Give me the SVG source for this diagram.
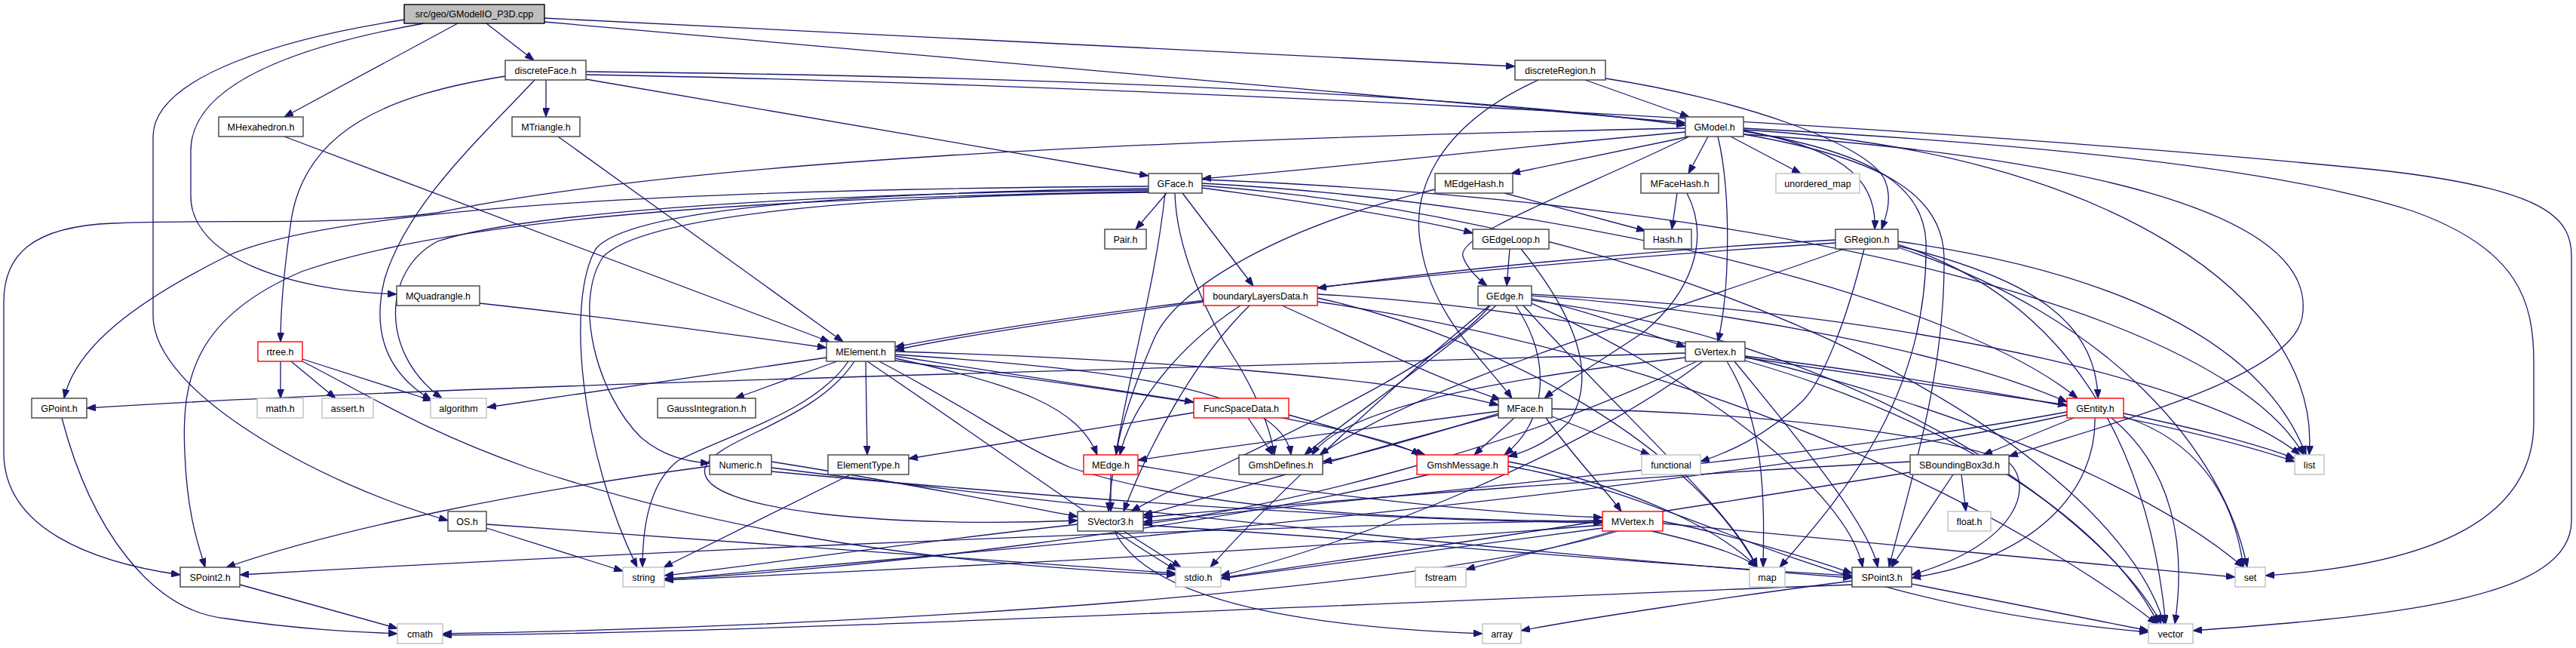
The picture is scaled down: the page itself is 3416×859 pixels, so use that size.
<svg xmlns="http://www.w3.org/2000/svg" width="3416" height="859" viewBox="0 0 3416 859">
<style>
.e{fill:none;stroke:#191970;stroke-width:1.3;marker-end:url(#ah)}
.n rect{fill:#fff;stroke:#404040;stroke-width:1.4}
.r rect{stroke:#ff0000}
.g rect{stroke:#bfbfbf}
.root rect{fill:#bfbfbf;stroke:#000}
text{font-family:"Liberation Sans",Arial,sans-serif;font-size:12.5px;text-anchor:middle;fill:#000}
</style>
<defs>
<marker id="ah" viewBox="0 0 12 9" refX="12" refY="4.5" markerWidth="12" markerHeight="9" markerUnits="userSpaceOnUse" orient="auto"><path d="M0,0L12,4.5L0,9z" fill="#191970" stroke="#191970" stroke-width="1"/></marker>
</defs>
<rect width="3416" height="859" fill="#fff"/>
<g id="edges">
<path class="e" d="M645,31 L708,80"/>
<path class="e" d="M607,31 L377,155"/>
<path class="e" d="M537,26 C380,50 205,100 203,180 L203,420 C205,520 420,640 594,690"/>
<path class="e" d="M562,31 C400,60 253,110 253,200 L253,260 C253,340 380,385 526,390"/>
<path class="e" d="M722,24 L2009,88"/>
<path class="e" d="M722,29 L2235,163"/>
<path class="e" d="M777,95 C1300,100 1900,120 2235,166"/>
<path class="e" d="M777,99 C1400,110 2500,160 3150,225 C3380,250 3410,290 3410,340 L3410,690 C3410,790 3200,815 2908,836"/>
<path class="e" d="M777,105 L1523,233"/>
<path class="e" d="M724,106 L724,155"/>
<path class="e" d="M670,101 C520,125 400,170 385,300 C375,370 372,420 372,453"/>
<path class="e" d="M709,106 C640,180 540,270 510,370 C495,430 505,490 572,530"/>
<path class="e" d="M377,181 L1100,453"/>
<path class="e" d="M740,181 L1118,453"/>
<path class="e" d="M636,402 C800,420 950,440 1096,461"/>
<path class="e" d="M2235,175 C2000,195 1800,220 1594,237"/>
<path class="e" d="M2240,181 L2004,230"/>
<path class="e" d="M2240,181 C2100,250 1930,310 1940,340 C1945,355 1960,370 1972,379"/>
<path class="e" d="M2265,181 L2239,230"/>
<path class="e" d="M2278,181 C2295,250 2295,380 2278,453"/>
<path class="e" d="M2295,181 L2388,230"/>
<path class="e" d="M2312,173 C2430,195 2490,230 2486,304"/>
<path class="e" d="M2129,104 C2300,130 2480,190 2500,240 C2510,265 2500,290 2495,304"/>
<path class="e" d="M2102,106 L2240,155"/>
<path class="e" d="M2040,106 C1900,170 1870,260 1885,330 C1900,420 1970,480 2005,528"/>
<path class="e" d="M1995,256 L2182,306"/>
<path class="e" d="M1903,251 C1700,300 1560,380 1530,450 C1500,520 1485,570 1480,603"/>
<path class="e" d="M2224,256 L2217,304"/>
<path class="e" d="M2237,256 C2270,320 2240,390 2180,440 C2120,480 2070,510 2048,528"/>
<path class="e" d="M1547,256 L1506,304"/>
<path class="e" d="M1568,256 L1662,379"/>
<path class="e" d="M1594,249 C1750,270 1880,290 1953,309"/>
<path class="e" d="M1523,252 C1100,255 700,280 580,320 C505,360 505,470 586,528"/>
<path class="e" d="M1523,247 C1000,250 450,270 300,340 C180,400 100,460 85,528"/>
<path class="e" d="M2235,170 C1500,185 900,215 580,282 C450,300 300,290 150,296 C40,300 5,340 5,400 L5,600 C5,700 120,745 239,762"/>
<path class="e" d="M1523,254 C1000,262 600,290 400,360 C260,420 240,500 245,600 C248,680 262,720 272,752"/>
<path class="e" d="M1523,255 C1100,260 850,290 800,340 C760,400 790,520 850,580 C880,605 910,612 941,614"/>
<path class="e" d="M1523,250 C1100,255 830,280 790,330 C750,400 770,600 845,752"/>
<path class="e" d="M2312,170 C2600,185 3000,215 3200,280 C3340,330 3360,400 3360,480 L3360,560 C3360,700 3200,750 3004,763"/>
<path class="e" d="M2312,178 C2650,200 3080,260 3053,420 C3040,500 2800,560 2664,605"/>
<path class="e" d="M2312,174 C2470,200 2550,240 2554,320 C2558,520 2450,650 2360,752"/>
<path class="e" d="M2312,178 C2500,210 2576,260 2578,340 C2580,500 2530,650 2505,752"/>
<path class="e" d="M2312,172 C2800,200 3080,400 3062,603"/>
<path class="e" d="M1594,243 C2100,270 2600,400 2755,528"/>
<path class="e" d="M1594,238 C2400,270 2950,420 3055,603"/>
<path class="e" d="M1594,246 C2300,300 2800,600 2870,827"/>
<path class="e" d="M1545,256 C1530,400 1480,550 1470,678"/>
<path class="e" d="M1558,256 C1560,330 1600,420 1640,480 C1670,530 1685,570 1690,603"/>
<path class="e" d="M2002,330 L1998,379"/>
<path class="e" d="M2017,330 C2090,420 2120,500 2080,560 C2050,590 2020,600 2000,605"/>
<path class="e" d="M2434,318 C2200,330 1900,360 1747,382"/>
<path class="e" d="M2517,326 C2700,370 2780,430 2782,528"/>
<path class="e" d="M2434,322 C2000,350 1500,400 1187,460"/>
<path class="e" d="M2517,320 C2800,360 3000,450 3058,603"/>
<path class="e" d="M2517,324 C2750,400 2850,600 2872,827"/>
<path class="e" d="M2517,328 C2800,420 2950,600 2980,752"/>
<path class="e" d="M2445,330 C2200,420 1900,500 1750,603"/>
<path class="e" d="M2472,330 C2450,420 2420,500 2391,531 C2340,580 2290,600 2255,612"/>
<path class="e" d="M2031,392 C2300,410 2600,470 2741,533"/>
<path class="e" d="M2031,396 C2100,410 2180,440 2235,460"/>
<path class="e" d="M1976,405 C1900,500 1600,620 1500,678"/>
<path class="e" d="M1984,405 C1900,480 1780,560 1730,603"/>
<path class="e" d="M2010,405 C2060,480 2050,560 1995,603"/>
<path class="e" d="M2031,390 C2600,420 2950,520 3050,603"/>
<path class="e" d="M2031,398 C2500,460 2800,700 2866,827"/>
<path class="e" d="M1975,405 C1800,550 1650,700 1605,752"/>
<path class="e" d="M2020,405 C2150,550 2300,680 2330,752"/>
<path class="e" d="M2031,402 C2250,500 2450,650 2470,752"/>
<path class="e" d="M2314,474 L2741,537"/>
<path class="e" d="M2235,468 C1500,490 600,510 115,541"/>
<path class="e" d="M2314,472 C2700,520 2950,580 3043,612"/>
<path class="e" d="M2314,478 C2600,560 2800,700 2862,827"/>
<path class="e" d="M2250,479 C2000,600 1700,670 1516,695"/>
<path class="e" d="M2258,479 C2100,600 1800,720 1619,763"/>
<path class="e" d="M2235,474 C2000,500 1780,540 1740,603"/>
<path class="e" d="M2290,479 C2340,560 2340,660 2338,752"/>
<path class="e" d="M2300,479 C2400,600 2480,700 2490,752"/>
<path class="e" d="M1596,400 C1450,420 1300,440 1187,464"/>
<path class="e" d="M1645,405 C1560,460 1500,540 1485,603"/>
<path class="e" d="M1700,405 C1800,450 1900,500 1990,530"/>
<path class="e" d="M1657,405 C1580,480 1520,600 1490,678"/>
<path class="e" d="M1747,395 C2000,450 2250,600 2330,752"/>
<path class="e" d="M1747,390 C2300,420 2800,600 2975,752"/>
<path class="e" d="M1747,400 C2300,480 2700,700 2860,827"/>
<path class="e" d="M1096,474 L646,540"/>
<path class="e" d="M1110,479 L975,528"/>
<path class="e" d="M1148,479 L1150,603"/>
<path class="e" d="M1125,479 C1080,545 970,575 900,610 C860,640 852,700 852,752"/>
<path class="e" d="M1133,479 C1080,560 950,580 935,620 C920,680 1200,700 1429,690"/>
<path class="e" d="M1150,479 C1300,580 1450,690 1560,756"/>
<path class="e" d="M1166,479 C1300,550 1350,590 1420,620 C1600,680 1900,690 2125,691"/>
<path class="e" d="M1187,472 L1583,533"/>
<path class="e" d="M1187,475 C1350,510 1430,540 1455,603"/>
<path class="e" d="M1187,466 C1500,475 1850,500 1987,537"/>
<path class="e" d="M1187,470 C1500,490 1700,520 1712,603"/>
<path class="e" d="M1187,478 C1500,520 1800,560 1884,603"/>
<path class="e" d="M2050,554 C2090,610 2130,650 2150,678"/>
<path class="e" d="M1987,550 C1800,600 1600,660 1516,683"/>
<path class="e" d="M1987,548 C1900,575 1800,605 1754,612"/>
<path class="e" d="M2008,554 L1955,603"/>
<path class="e" d="M1987,545 C1800,570 1600,595 1509,610"/>
<path class="e" d="M2058,552 L2188,603"/>
<path class="e" d="M2058,542 C2300,545 2550,570 2660,610 C2700,640 2680,720 2535,762"/>
<path class="e" d="M2750,554 L2630,603"/>
<path class="e" d="M2778,554 C2780,650 2700,740 2535,766"/>
<path class="e" d="M2741,546 C2400,610 1800,660 1516,692"/>
<path class="e" d="M2816,548 C2900,565 3000,590 3043,608"/>
<path class="e" d="M2816,552 C2900,580 2960,640 2975,752"/>
<path class="e" d="M2800,554 C2880,620 2900,720 2884,827"/>
<path class="e" d="M2741,550 C2300,650 1200,740 881,768"/>
<path class="e" d="M1473,629 L1473,678"/>
<path class="e" d="M1509,617 C1700,650 1950,680 2125,686"/>
<path class="e" d="M1583,547 L1205,608"/>
<path class="e" d="M1655,554 L1688,603"/>
<path class="e" d="M1709,550 C1780,570 1850,590 1890,603"/>
<path class="e" d="M2000,612 C2150,640 2280,700 2330,752"/>
<path class="e" d="M2000,618 C2250,660 2400,800 2849,838"/>
<path class="e" d="M1895,629 C1600,700 1100,760 881,767"/>
<path class="e" d="M2205,691 C2300,710 2400,740 2456,760"/>
<path class="e" d="M2205,694 C2500,720 2800,750 2964,765"/>
<path class="e" d="M2190,704 C2260,720 2310,735 2330,752"/>
<path class="e" d="M2125,696 C1700,730 1200,755 881,769"/>
<path class="e" d="M2125,700 C1900,730 1700,755 1619,767"/>
<path class="e" d="M2140,704 C2050,730 1980,745 1944,755"/>
<path class="e" d="M2145,704 C1900,780 1200,830 587,840"/>
<path class="e" d="M2125,690 C1500,700 700,740 318,762"/>
<path class="e" d="M1516,696 C1900,720 2200,750 2456,763"/>
<path class="e" d="M1429,695 C1200,720 1000,750 881,763"/>
<path class="e" d="M1490,704 L1566,752"/>
<path class="e" d="M1478,704 C1520,790 1700,830 1966,840"/>
<path class="e" d="M2590,629 L2508,752"/>
<path class="e" d="M2601,629 L2607,678"/>
<path class="e" d="M2533,612 C2200,630 1800,660 1516,686"/>
<path class="e" d="M2533,626 C2200,680 1800,740 1619,766"/>
<path class="e" d="M941,618 C700,650 450,700 300,752"/>
<path class="e" d="M1023,612 C1200,640 1350,670 1429,685"/>
<path class="e" d="M1023,620 C1500,680 2100,740 2456,766"/>
<path class="e" d="M1023,625 C1400,660 1800,690 2125,693"/>
<path class="e" d="M1128,629 L880,752"/>
<path class="e" d="M645,700 L826,757"/>
<path class="e" d="M645,695 C1000,720 1400,750 1559,760"/>
<path class="e" d="M372,479 L372,528"/>
<path class="e" d="M386,479 L445,528"/>
<path class="e" d="M401,476 L573,531"/>
<path class="e" d="M401,479 C500,530 560,570 700,620 C1000,720 1300,750 1559,762"/>
<path class="e" d="M82,554 C120,700 200,810 300,820 C400,835 480,838 527,840"/>
<path class="e" d="M318,775 L527,833"/>
<path class="e" d="M2535,774 L2849,836"/>
<path class="e" d="M2456,770 C2300,790 2100,820 2017,836"/>
<path class="e" d="M2456,775 C1800,800 1000,840 587,842"/>
</g>
<g id="n-root" class="n root"><rect x="536" y="6" width="186" height="25"/><text x="629" y="23">src/geo/GModelIO_P3D.cpp</text></g>
<g id="n-discreteFace" class="n"><rect x="670" y="80" width="107" height="26"/><text x="723.5" y="97.5">discreteFace.h</text></g>
<g id="n-discreteRegion" class="n"><rect x="2009" y="80" width="120" height="26"/><text x="2069" y="97.5">discreteRegion.h</text></g>
<g id="n-MHexahedron" class="n"><rect x="290" y="155" width="112" height="26"/><text x="346" y="172.5">MHexahedron.h</text></g>
<g id="n-MTriangle" class="n"><rect x="679" y="155" width="90" height="26"/><text x="724" y="172.5">MTriangle.h</text></g>
<g id="n-GModel" class="n"><rect x="2235" y="155" width="77" height="26"/><text x="2273.5" y="172.5">GModel.h</text></g>
<g id="n-GFace" class="n"><rect x="1523" y="230" width="71" height="26"/><text x="1558.5" y="247.5">GFace.h</text></g>
<g id="n-MEdgeHash" class="n"><rect x="1903" y="230" width="103" height="26"/><text x="1954.5" y="247.5">MEdgeHash.h</text></g>
<g id="n-MFaceHash" class="n"><rect x="2176" y="230" width="103" height="26"/><text x="2227.5" y="247.5">MFaceHash.h</text></g>
<g id="n-unordered_map" class="n g"><rect x="2355" y="230" width="111" height="26"/><text x="2410.5" y="247.5">unordered_map</text></g>
<g id="n-Pair" class="n"><rect x="1465" y="304" width="55" height="26"/><text x="1492.5" y="321.5">Pair.h</text></g>
<g id="n-GEdgeLoop" class="n"><rect x="1953" y="304" width="101" height="26"/><text x="2003.5" y="321.5">GEdgeLoop.h</text></g>
<g id="n-Hash" class="n"><rect x="2180" y="304" width="63" height="26"/><text x="2211.5" y="321.5">Hash.h</text></g>
<g id="n-GRegion" class="n"><rect x="2434" y="304" width="83" height="26"/><text x="2475.5" y="321.5">GRegion.h</text></g>
<g id="n-MQuadrangle" class="n"><rect x="526" y="379" width="110" height="26"/><text x="581" y="396.5">MQuadrangle.h</text></g>
<g id="n-boundaryLayersData" class="n r"><rect x="1596" y="379" width="151" height="26"/><text x="1671.5" y="396.5">boundaryLayersData.h</text></g>
<g id="n-GEdge" class="n"><rect x="1960" y="379" width="71" height="26"/><text x="1995.5" y="396.5">GEdge.h</text></g>
<g id="n-rtree" class="n r"><rect x="342" y="453" width="59" height="26"/><text x="371.5" y="470.5">rtree.h</text></g>
<g id="n-MElement" class="n"><rect x="1096" y="453" width="91" height="26"/><text x="1141.5" y="470.5">MElement.h</text></g>
<g id="n-GVertex" class="n"><rect x="2235" y="453" width="79" height="26"/><text x="2274.5" y="470.5">GVertex.h</text></g>
<g id="n-GPoint" class="n"><rect x="42" y="528" width="73" height="26"/><text x="78.5" y="545.5">GPoint.h</text></g>
<g id="n-math" class="n g"><rect x="341" y="528" width="61" height="26"/><text x="371.5" y="545.5">math.h</text></g>
<g id="n-assert" class="n g"><rect x="427" y="528" width="68" height="26"/><text x="461" y="545.5">assert.h</text></g>
<g id="n-algorithm" class="n g"><rect x="571" y="528" width="74" height="26"/><text x="608" y="545.5">algorithm</text></g>
<g id="n-GaussIntegration" class="n"><rect x="872" y="528" width="130" height="26"/><text x="937" y="545.5">GaussIntegration.h</text></g>
<g id="n-FuncSpaceData" class="n r"><rect x="1583" y="528" width="126" height="26"/><text x="1646" y="545.5">FuncSpaceData.h</text></g>
<g id="n-MFace" class="n"><rect x="1987" y="528" width="71" height="26"/><text x="2022.5" y="545.5">MFace.h</text></g>
<g id="n-GEntity" class="n r"><rect x="2741" y="528" width="75" height="26"/><text x="2778.5" y="545.5">GEntity.h</text></g>
<g id="n-Numeric" class="n"><rect x="941" y="603" width="82" height="26"/><text x="982" y="620.5">Numeric.h</text></g>
<g id="n-ElementType" class="n"><rect x="1098" y="603" width="107" height="26"/><text x="1151.5" y="620.5">ElementType.h</text></g>
<g id="n-MEdge" class="n r"><rect x="1437" y="603" width="72" height="26"/><text x="1473" y="620.5">MEdge.h</text></g>
<g id="n-GmshDefines" class="n"><rect x="1643" y="603" width="111" height="26"/><text x="1698.5" y="620.5">GmshDefines.h</text></g>
<g id="n-GmshMessage" class="n r"><rect x="1879" y="603" width="121" height="26"/><text x="1939.5" y="620.5">GmshMessage.h</text></g>
<g id="n-functional" class="n g"><rect x="2177" y="603" width="78" height="26"/><text x="2216" y="620.5">functional</text></g>
<g id="n-SBoundingBox3d" class="n"><rect x="2533" y="603" width="131" height="26"/><text x="2598.5" y="620.5">SBoundingBox3d.h</text></g>
<g id="n-list" class="n g"><rect x="3043" y="603" width="39" height="26"/><text x="3062.5" y="620.5">list</text></g>
<g id="n-OS" class="n"><rect x="594" y="678" width="51" height="26"/><text x="619.5" y="695.5">OS.h</text></g>
<g id="n-SVector3" class="n"><rect x="1429" y="678" width="87" height="26"/><text x="1472.5" y="695.5">SVector3.h</text></g>
<g id="n-MVertex" class="n r"><rect x="2125" y="678" width="80" height="26"/><text x="2165" y="695.5">MVertex.h</text></g>
<g id="n-float" class="n g"><rect x="2583" y="678" width="57" height="26"/><text x="2611.5" y="695.5">float.h</text></g>
<g id="n-SPoint2" class="n"><rect x="239" y="752" width="79" height="26"/><text x="278.5" y="769.5">SPoint2.h</text></g>
<g id="n-string" class="n g"><rect x="826" y="752" width="55" height="26"/><text x="853.5" y="769.5">string</text></g>
<g id="n-stdio" class="n g"><rect x="1559" y="752" width="60" height="26"/><text x="1589" y="769.5">stdio.h</text></g>
<g id="n-fstream" class="n g"><rect x="1877" y="752" width="67" height="26"/><text x="1910.5" y="769.5">fstream</text></g>
<g id="n-map" class="n g"><rect x="2320" y="752" width="47" height="26"/><text x="2343.5" y="769.5">map</text></g>
<g id="n-SPoint3" class="n"><rect x="2456" y="752" width="79" height="26"/><text x="2495.5" y="769.5">SPoint3.h</text></g>
<g id="n-set" class="n g"><rect x="2964" y="752" width="40" height="26"/><text x="2984" y="769.5">set</text></g>
<g id="n-cmath" class="n g"><rect x="527" y="827" width="60" height="26"/><text x="557" y="844.5">cmath</text></g>
<g id="n-array" class="n g"><rect x="1966" y="827" width="51" height="26"/><text x="1991.5" y="844.5">array</text></g>
<g id="n-vector" class="n g"><rect x="2849" y="827" width="59" height="26"/><text x="2878.5" y="844.5">vector</text></g>
</svg>
